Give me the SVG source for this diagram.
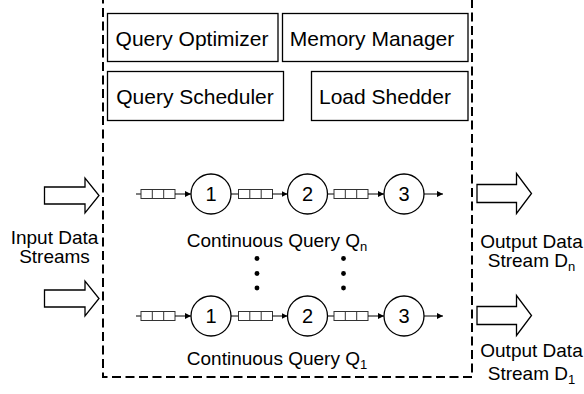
<svg xmlns="http://www.w3.org/2000/svg" width="584" height="394" viewBox="0 0 584 394">
  <style>
    text { font-family: "Liberation Sans", Arial, Helvetica, sans-serif; fill: #000; }
    .box { fill: #fff; stroke: #000; stroke-width: 1.3; }
    .boxlabel { font-size: 21px; text-anchor: middle; }
    .label { font-size: 19px; text-anchor: middle; }
    .sub { font-size: 13px; }
    .frame { fill: none; stroke: #000; stroke-width: 2; stroke-dasharray: 9 4.5; }
    .big { fill: #fff; stroke: #000; stroke-width: 1.3; stroke-linejoin: miter; }
    .link { fill: none; stroke: #000; stroke-width: 1; }
    .queue { fill: #fff; stroke: #333; stroke-width: 1; }
    .op { fill: #fff; stroke: #000; stroke-width: 1.3; }
    .num { font-size: 20px; text-anchor: middle; }
    .dot { fill: #000; }
  </style>
  <defs>
    <marker id="tip" markerUnits="userSpaceOnUse" markerWidth="6" markerHeight="6" refX="6" refY="3" orient="auto">
      <path d="M0,0 L6,3 L0,6 Z" fill="#000"/>
    </marker>
    <!-- a three-slot queue, left edge at x=0, centred on y=0 -->
    <g id="q3">
      <rect class="queue" x="0" y="-4.5" width="34" height="9"/>
      <line class="queue" x1="11.3" y1="-4.5" x2="11.3" y2="4.5"/>
      <line class="queue" x1="22.7" y1="-4.5" x2="22.7" y2="4.5"/>
    </g>
  </defs>

  <!-- engine boundary -->
  <rect id="engine" class="frame" x="103" y="-10" width="369" height="387"/>

  <!-- engine components -->
  <g id="query-optimizer">
    <rect class="box" x="107.5" y="13.5" width="170.5" height="48"/>
    <text class="boxlabel" x="192" y="46">Query Optimizer</text>
  </g>
  <g id="memory-manager">
    <rect class="box" x="282.5" y="13.5" width="185.5" height="48"/>
    <text class="boxlabel" x="372" y="46">Memory Manager</text>
  </g>
  <g id="query-scheduler">
    <rect class="box" x="107.5" y="71.5" width="176" height="49"/>
    <text class="boxlabel" x="195" y="103.5">Query Scheduler</text>
  </g>
  <g id="load-shedder">
    <rect class="box" x="311.5" y="71.5" width="156.5" height="49"/>
    <text class="boxlabel" x="385" y="103.5">Load Shedder</text>
  </g>

  <!-- input streams -->
  <g id="input-streams">
    <path class="big" d="M44.5,187 H85 V178 L99,195.5 L85,213 V204 H44.5 Z"/>
    <path class="big" d="M44.5,290 H85 V281 L99,298.5 L85,316 V307 H44.5 Z"/>
    <text class="label" x="54.5" y="244">Input Data</text>
    <text class="label" x="54.5" y="263">Streams</text>
  </g>

  <!-- output streams -->
  <g id="output-n">
    <path class="big" d="M477,184.5 H516.5 V173.5 L531.5,193.5 L516.5,213.5 V202.5 H477 Z"/>
    <text class="label" x="531.5" y="247.5">Output Data</text>
    <text class="label" x="531.5" y="266.5">Stream D<tspan class="sub" dy="4">n</tspan></text>
  </g>
  <g id="output-1">
    <path class="big" d="M477,306.5 H516.5 V295.5 L531.5,315.5 L516.5,335.5 V324.5 H477 Z"/>
    <text class="label" x="531.5" y="357">Output Data</text>
    <text class="label" x="531.5" y="379.5">Stream D<tspan class="sub" dy="4">1</tspan></text>
  </g>

  <!-- continuous query Qn -->
  <g id="query-n" transform="translate(0,194)">
    <g class="connectors">
      <line class="link" x1="136" y1="0" x2="141" y2="0"/>
      <use href="#q3" x="141"/>
      <line class="link" x1="175" y1="0" x2="191" y2="0" marker-end="url(#tip)"/>
      <line class="link" x1="231" y1="0" x2="238" y2="0"/>
      <use href="#q3" x="238.5"/>
      <line class="link" x1="272.5" y1="0" x2="287.5" y2="0" marker-end="url(#tip)"/>
      <line class="link" x1="327.5" y1="0" x2="334" y2="0"/>
      <use href="#q3" x="334"/>
      <line class="link" x1="368" y1="0" x2="384" y2="0" marker-end="url(#tip)"/>
      <line class="link" x1="424" y1="0" x2="443" y2="0" marker-end="url(#tip)"/>
    </g>
    <g id="qn-op1"><circle class="op" cx="211" cy="0" r="20"/><text class="num" x="211" y="7">1</text></g>
    <g id="qn-op2"><circle class="op" cx="307.5" cy="0" r="20"/><text class="num" x="307.5" y="7">2</text></g>
    <g id="qn-op3"><circle class="op" cx="404" cy="0" r="20"/><text class="num" x="404" y="7">3</text></g>
  </g>
  <text class="label" x="277" y="247">Continuous Query Q<tspan class="sub" dy="4">n</tspan></text>

  <!-- ellipsis between queries -->
  <g id="ellipsis">
    <circle class="dot" cx="257" cy="258.5" r="2.4"/>
    <circle class="dot" cx="257" cy="273.5" r="2.4"/>
    <circle class="dot" cx="257" cy="288" r="2.4"/>
    <circle class="dot" cx="343.5" cy="258.5" r="2.4"/>
    <circle class="dot" cx="343.5" cy="273.5" r="2.4"/>
    <circle class="dot" cx="343.5" cy="288" r="2.4"/>
  </g>

  <!-- continuous query Q1 -->
  <g id="query-1" transform="translate(0,316)">
    <g class="connectors">
      <line class="link" x1="136" y1="0" x2="141" y2="0"/>
      <use href="#q3" x="141"/>
      <line class="link" x1="175" y1="0" x2="191" y2="0" marker-end="url(#tip)"/>
      <line class="link" x1="231" y1="0" x2="238" y2="0"/>
      <use href="#q3" x="238.5"/>
      <line class="link" x1="272.5" y1="0" x2="287.5" y2="0" marker-end="url(#tip)"/>
      <line class="link" x1="327.5" y1="0" x2="334" y2="0"/>
      <use href="#q3" x="334"/>
      <line class="link" x1="368" y1="0" x2="384" y2="0" marker-end="url(#tip)"/>
      <line class="link" x1="424" y1="0" x2="443" y2="0" marker-end="url(#tip)"/>
    </g>
    <g id="q1-op1"><circle class="op" cx="211" cy="0" r="20"/><text class="num" x="211" y="7">1</text></g>
    <g id="q1-op2"><circle class="op" cx="307.5" cy="0" r="20"/><text class="num" x="307.5" y="7">2</text></g>
    <g id="q1-op3"><circle class="op" cx="404" cy="0" r="20"/><text class="num" x="404" y="7">3</text></g>
  </g>
  <text class="label" x="277" y="365">Continuous Query Q<tspan class="sub" dy="4">1</tspan></text>
</svg>
